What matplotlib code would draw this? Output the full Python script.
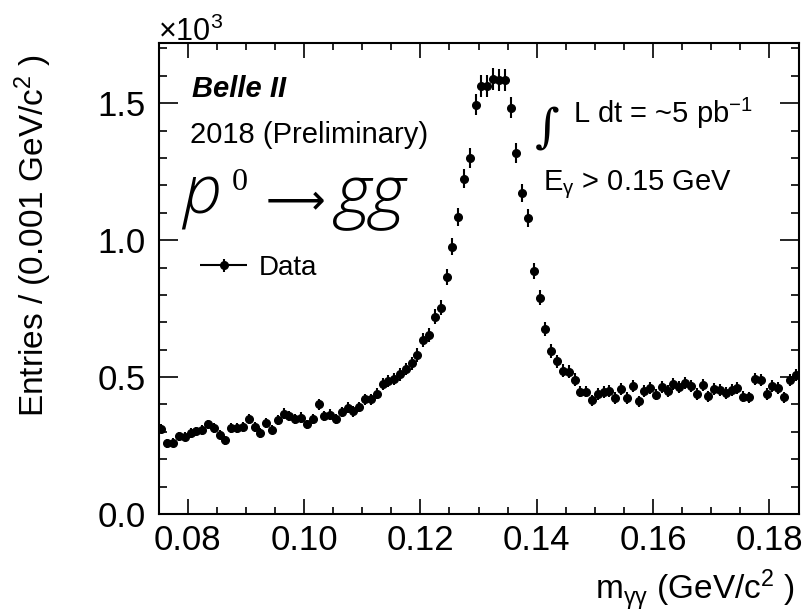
import numpy as np
import matplotlib
matplotlib.use("Agg")
import matplotlib.pyplot as plt
from matplotlib.container import ErrorbarContainer
from matplotlib.legend_handler import HandlerErrorbar
from matplotlib.ticker import MultipleLocator, FormatStrFormatter

plt.rcParams['font.family'] = ['Liberation Sans', 'DejaVu Sans']
plt.rcParams['mathtext.fontset'] = 'custom'
plt.rcParams['mathtext.rm'] = 'Liberation Sans'
plt.rcParams['mathtext.it'] = 'Liberation Sans:italic'
plt.rcParams['mathtext.bf'] = 'Liberation Sans:bold'

# histogram: 110 bins of 1 MeV between 0.075 and 0.185 GeV
m_lo, m_hi, n_bins = 0.075, 0.185, 110
entries = [
    312, 258, 260, 284, 282, 296, 302, 306, 327, 315,
    290, 270, 315, 315, 318, 348, 318, 296, 334, 308,
    342, 367, 358, 348, 352, 327, 348, 400, 358, 363,
    348, 373, 388, 375, 391, 419, 419, 440, 476, 484,
    494, 510, 530, 551, 581, 636, 655, 720, 754, 867,
    976, 1085, 1224, 1300, 1495, 1564, 1564, 1590, 1584, 1584,
    1483, 1318, 1172, 1081, 887, 790, 676, 595, 557, 524,
    520, 491, 447, 447, 415, 439, 445, 449, 424, 457,
    424, 469, 412, 449, 461, 436, 463, 450, 475, 463,
    478, 467, 439, 471, 430, 457, 453, 442, 453, 459,
    429, 426, 492, 490, 439, 469, 461, 426, 488, 508,
]
x_ticks = [0.08, 0.10, 0.12, 0.14, 0.16, 0.18]
y_ticks = [0.0, 0.5, 1.0, 1.5]

edges = np.linspace(m_lo, m_hi, n_bins + 1)
centers = 0.5 * (edges[:-1] + edges[1:])
half_w = 0.5 * (edges[1] - edges[0])
counts = np.array(entries, dtype=float)
y = counts / 1000.0
yerr = np.sqrt(counts) / 1000.0

W, H = 806, 614
fig = plt.figure(figsize=(W / 100, H / 100), dpi=100)
ax = fig.add_axes([158.5 / W, 1 - 514 / H, 640 / W, 471 / H])

eb = ax.errorbar(centers, y, yerr=yerr, xerr=half_w, fmt='o', color='black',
                 ms=5.5, elinewidth=1.5, capsize=0, label='Data')

ax.set_xlim(m_lo, m_hi)
ax.set_ylim(0, 1.72)
ax.set_xticks(x_ticks)
ax.set_yticks(y_ticks)
ax.xaxis.set_major_formatter(FormatStrFormatter('%.2f'))
ax.yaxis.set_major_formatter(FormatStrFormatter('%.1f'))
ax.xaxis.set_minor_locator(MultipleLocator(0.005))
ax.yaxis.set_minor_locator(MultipleLocator(0.1))
for s in ax.spines.values():
    s.set_linewidth(1.5)
ax.tick_params(which='both', direction='in', top=True, right=True, width=1.2,
               labelsize=25)
ax.tick_params(axis='x', which='major', length=11, pad=7)
ax.tick_params(axis='x', which='minor', length=5)
ax.tick_params(axis='y', which='major', length=14, pad=9)
ax.tick_params(axis='y', which='minor', length=5.5)

def fx(px):
    return px / W

def fy(py):
    return 1 - py / H

fig.text(fx(158), fy(41), r'$\times$10$^{3}$', fontsize=22, va='baseline')
fig.text(fx(795), fy(600), r'm$_{\mathrm{γγ}}$ (GeV/c$^{2}$ )', fontsize=24,
         ha='right', va='baseline')
fig.text(fx(33), fy(54), r'Entries / (0.001 GeV/c$^{2}$ )', fontsize=24,
         rotation=90, ha='center', va='top')

fig.text(fx(192), fy(97), 'Belle II', fontsize=21, fontweight='bold',
         fontstyle='italic', va='baseline')
fig.text(fx(190), fy(143), '2018 (Preliminary)', fontsize=21, va='baseline')

# pi0 -> gamma gamma, as it came out in the original (symbol font lost)
big = dict(family=['Open Sans', 'DejaVu Sans'], fontstyle='italic',
           fontweight='light', va='baseline')
fig.text(fx(182), fy(214), 'p', fontsize=50, **big)
fig.text(fx(232), fy(190), '0', fontsize=23, family='Liberation Serif',
         va='baseline')
fig.text(fx(266), fy(213), '⟶', fontsize=30, family='DejaVu Sans',
         va='baseline')
fig.text(fx(336), fy(214), 'gg', fontsize=50, **big)

fig.text(fx(535), fy(142), '∫', fontsize=34, family='DejaVu Serif',
         va='baseline')
fig.text(fx(573), fy(123), r'L dt = ~5 pb$^{-1}$', fontsize=21, va='baseline')
fig.text(fx(543), fy(190), r'E$_{\mathrm{γ}}$ > 0.15 GeV', fontsize=21,
         va='baseline')

ax.legend(handles=[eb], loc='center left',
          bbox_to_anchor=(fx(200), fy(268)), bbox_transform=fig.transFigure,
          frameon=False, fontsize=20, borderpad=0, borderaxespad=0,
          handletextpad=0.4, handlelength=1.7,
          handler_map={ErrorbarContainer: HandlerErrorbar(xerr_size=0.85,
                                                          yerr_size=0.23)})

fig.savefig('out.png', dpi=100)
